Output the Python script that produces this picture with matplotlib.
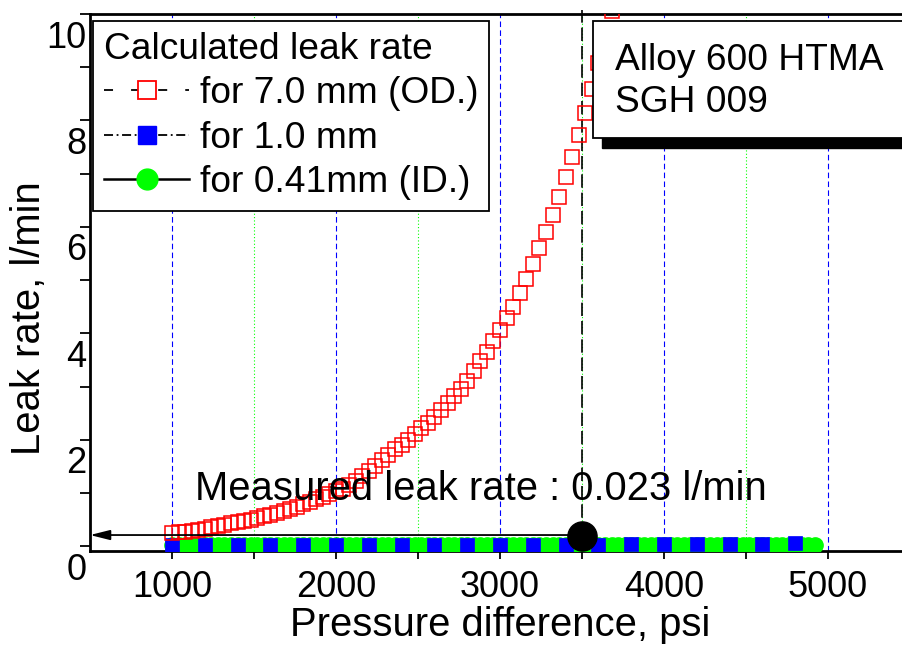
import matplotlib
matplotlib.use("Agg")
import matplotlib.pyplot as plt
from matplotlib.lines import Line2D
from matplotlib.patches import Rectangle
from matplotlib.transforms import ScaledTranslation

plt.rcParams['font.family'] = ['Liberation Sans', 'DejaVu Sans']

# ---------------- data ----------------
od_pressure = [1000, 1040, 1080, 1120, 1160, 1200, 1240, 1280, 1320, 1360,
               1400, 1440, 1480, 1520, 1560, 1600, 1640, 1680, 1720, 1760,
               1800, 1840, 1880, 1920, 1960, 2000, 2040, 2080, 2120, 2160,
               2200, 2240, 2280, 2320, 2360, 2400, 2440, 2480, 2520, 2560,
               2600, 2640, 2680, 2720, 2760, 2800, 2840, 2880, 2920, 2960,
               3000, 3040, 3080, 3120, 3160, 3200, 3240, 3280, 3320, 3360,
               3400, 3440, 3480, 3520, 3560, 3600, 3640, 3680]
od_leak = [0.25, 0.26, 0.27, 0.29, 0.30, 0.33, 0.36, 0.38, 0.40, 0.43,
           0.45, 0.48, 0.50, 0.53, 0.56, 0.59, 0.62, 0.66, 0.70, 0.74,
           0.79, 0.83, 0.88, 0.93, 0.98, 1.03, 1.08, 1.15, 1.23, 1.31,
           1.41, 1.51, 1.62, 1.72, 1.82, 1.91, 2.00, 2.11, 2.22, 2.32,
           2.43, 2.56, 2.70, 2.83, 2.96, 3.11, 3.29, 3.48, 3.65, 3.85,
           4.07, 4.28, 4.50, 4.76, 5.02, 5.30, 5.61, 5.91, 6.23, 6.56,
           6.94, 7.32, 7.73, 8.14, 8.59, 9.07, 9.55, 10.06]

mid_pressure = [1000, 1200, 1400, 1600, 1800, 2000, 2200, 2400, 2600, 2800,
                3000, 3200, 3400, 3600, 3800, 4000, 4200, 4400, 4600, 4800]
mid_leak = [0.02, 0.02, 0.02, 0.02, 0.02, 0.02, 0.02, 0.025, 0.025, 0.025,
            0.03, 0.03, 0.03, 0.03, 0.035, 0.035, 0.04, 0.045, 0.05, 0.065]

id_pressure = [1000, 1040, 1080, 1120, 1160, 1200, 1240, 1280, 1320, 1360,
               1400, 1440, 1480, 1520, 1560, 1600, 1640, 1680, 1720, 1760,
               1800, 1840, 1880, 1920, 1960, 2000, 2040, 2080, 2120, 2160,
               2200, 2240, 2280, 2320, 2360, 2400, 2440, 2480, 2520, 2560,
               2600, 2640, 2680, 2720, 2760, 2800, 2840, 2880, 2920, 2960,
               3000, 3040, 3080, 3120, 3160, 3200, 3240, 3280, 3320, 3360,
               3400, 3440, 3480, 3520, 3560, 3600, 3640, 3680, 3720, 3760,
               3800, 3840, 3880, 3920, 3960, 4000, 4040, 4080, 4120, 4160,
               4200, 4240, 4280, 4320, 4360, 4400, 4440, 4480, 4520, 4560,
               4600, 4640, 4680, 4720, 4760, 4800, 4840, 4880, 4920]
id_leak = [0.02, 0.02, 0.02, 0.02, 0.02, 0.02, 0.02, 0.02, 0.02, 0.02,
           0.02, 0.02, 0.02, 0.02, 0.02, 0.02, 0.02, 0.02, 0.02, 0.02,
           0.02, 0.02, 0.02, 0.02, 0.02, 0.02, 0.02, 0.02, 0.02, 0.02,
           0.02, 0.02, 0.02, 0.02, 0.02, 0.02, 0.02, 0.02, 0.02, 0.02,
           0.025, 0.025, 0.025, 0.025, 0.025, 0.025, 0.025, 0.025, 0.025, 0.025,
           0.025, 0.025, 0.025, 0.025, 0.025, 0.025, 0.025, 0.025, 0.025, 0.025,
           0.03, 0.03, 0.03, 0.03, 0.03, 0.03, 0.03, 0.03, 0.03, 0.03,
           0.03, 0.03, 0.03, 0.03, 0.03, 0.03, 0.03, 0.03, 0.03, 0.03,
           0.03, 0.03, 0.03, 0.03, 0.03, 0.03, 0.03, 0.03, 0.03, 0.03,
           0.03, 0.03, 0.03, 0.03, 0.03, 0.03, 0.03, 0.03, 0.03]

measured_pressure = 3500
measured_leak = 0.19

blue_grid = [1000, 2000, 3000, 4000, 5000]
green_grid = [1500, 2500, 3500, 4500]
x_major = [1000, 2000, 3000, 4000, 5000]
x_minor = [1500, 2500, 3500, 4500]
y_major = [0, 2, 4, 6, 8, 10]
y_minor = [1, 3, 5, 7, 9]

legend_title = "Calculated leak rate"
legend_labels = ["for 7.0 mm (OD.)", "for 1.0 mm", "for 0.41mm (ID.)"]
box_lines = ["Alloy 600 HTMA", "SGH 009"]

# ---------------- figure ----------------
W, H = 902, 645
fig = plt.figure(figsize=(W / 100, H / 100), dpi=100)
ax_l, ax_r, ax_t, ax_b = 90, 902, 14, 551
ax = fig.add_axes([ax_l / W, 1 - ax_b / H, (ax_r - ax_l) / W, (ax_b - ax_t) / H])
ax.set_xlim(500, 5451)
ax.set_ylim(-0.09, 10.0)

for s in ['top', 'left', 'bottom']:
    ax.spines[s].set_linewidth(2.0)
ax.spines['right'].set_visible(False)

for gx in blue_grid:
    ax.axvline(gx, color='#0000ff', lw=0.8, ls=(0, (5, 3)), zorder=1)
for gx in green_grid:
    ax.axvline(gx, color='#00ff00', lw=0.8, ls=(0, (1, 2)), zorder=1)

# vertical dashed line at measured point
ax.plot([measured_pressure, measured_pressure], [measured_leak, 10.08],
        color='black', lw=1.2, ls=(0, (8, 3)), zorder=2, clip_on=False)

ax.plot(id_pressure, id_leak, ls='none', marker='o', ms=11,
        mfc='#00ff00', mec='#00ff00', zorder=3)
ax.plot(mid_pressure, mid_leak, ls='none', marker='s', ms=10.5,
        mfc='#0000ff', mec='#0000ff', mew=0.5, zorder=4)
ax.plot(od_pressure, od_leak, ls='none', marker='s', ms=10,
        mfc='none', mec='#ff0000', mew=1.1, zorder=5)

ax.plot([measured_pressure], [measured_leak], ls='none', marker='o', ms=21,
        color='black', zorder=7)
ax.annotate('', xy=(500, measured_leak + 0.02), xytext=(measured_pressure, measured_leak + 0.02),
            arrowprops=dict(arrowstyle='-|>,head_length=1.2,head_width=0.3',
                            mutation_scale=10, color='black', lw=1.3,
                            shrinkA=0, shrinkB=0), zorder=6)

ax.text(2884, 0.86, "Measured leak rate : 0.023 l/min", fontsize=28.8,
        ha='center', va='baseline', zorder=8)

# ticks
ax.set_xticks(x_major)
ax.set_xticks(x_minor, minor=True)
ax.set_yticks(y_major)
ax.set_yticks(y_minor, minor=True)
ax.tick_params(axis='x', which='both', direction='out', length=6, width=1.3,
               labelsize=26, pad=8)
ax.tick_params(axis='y', which='both', direction='out', length=7.5, width=1.3,
               labelsize=26, pad=-5)
ax.set_xticklabels([str(v) for v in x_major])
ax.set_yticklabels([str(v) for v in y_major])
offset = ScaledTranslation(0, -0.20, fig.dpi_scale_trans)
for lab in ax.get_yticklabels():
    lab.set_transform(lab.get_transform() + offset)

fig.text(29 / W, 1 - 318 / H, "Leak rate, l/min", rotation=90, fontsize=28.8,
         ha='center', va='center')
fig.text(500 / W, 1 - 625 / H, "Pressure difference, psi", fontsize=28.8,
         ha='center', va='center')

# legend
handles = [
    Line2D([], [], color='black', lw=1.3, ls=(0, (5, 10)), marker='s', ms=13,
           mfc='white', mec='#ff0000', mew=1.3),
    Line2D([], [], color='black', lw=1.3, ls=(0, (5, 2, 1, 2)), marker='s', ms=13,
           mfc='#0000ff', mec='#0000ff'),
    Line2D([], [], color='black', lw=1.8, ls='-', marker='o', ms=15,
           mfc='#00ff00', mec='#00ff00'),
]
leg = ax.legend(handles, legend_labels, title=legend_title, loc='upper left',
                bbox_to_anchor=(93 / W, 1 - 21 / H), bbox_transform=fig.transFigure,
                borderaxespad=0, fontsize=26.7, title_fontsize=26.7, alignment='left',
                fancybox=False, framealpha=1, edgecolor='black',
                handlelength=2.3, handletextpad=0.28, borderpad=0.3,
                labelspacing=0.25)
leg.get_frame().set_linewidth(1.3)
leg.set_zorder(10)

# text box with shadow
bx0, by0, by1 = 593, 21, 138
fig.patches.append(Rectangle((602 / W, 1 - (by1 + 10) / H), 1.0, (by1 - by0) / H,
                             transform=fig.transFigure, facecolor='black',
                             edgecolor='black', zorder=20))
fig.patches.append(Rectangle((bx0 / W, 1 - by1 / H), 1.0, (by1 - by0) / H,
                             transform=fig.transFigure, facecolor='white',
                             edgecolor='black', lw=1.3, zorder=21))
fig.text(615 / W, 1 - 60 / H, box_lines[0], fontsize=26.7, ha='left', va='center', zorder=22)
fig.text(615 / W, 1 - 103 / H, box_lines[1], fontsize=26.7, ha='left', va='center', zorder=22)

fig.savefig("out.png", dpi=100)
